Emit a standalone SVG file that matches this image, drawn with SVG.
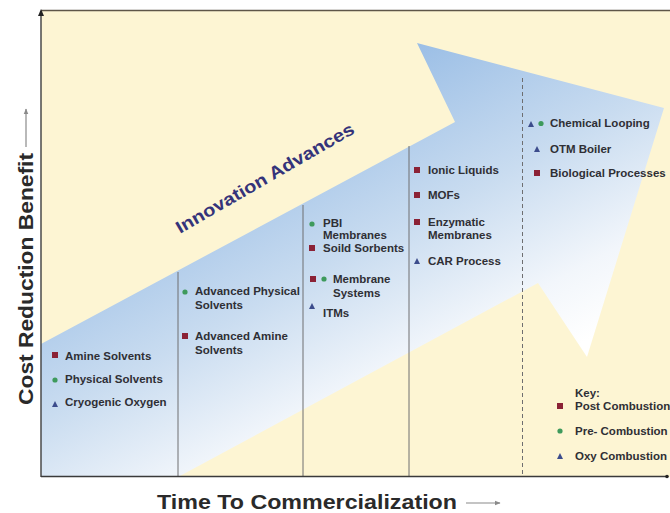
<svg xmlns="http://www.w3.org/2000/svg" width="670" height="513" viewBox="0 0 670 513">
<defs>
<linearGradient id="arrowGrad" gradientUnits="userSpaceOnUse" x1="260" y1="130" x2="420" y2="430">
<stop offset="0" stop-color="#9CBFE6"/>
<stop offset="0.45" stop-color="#C9DCF0"/>
<stop offset="0.8" stop-color="#F2F6FB"/>
<stop offset="1" stop-color="#FFFFFF"/>
</linearGradient>
<marker id="ah" viewBox="0 0 10 10" refX="9" refY="5" markerWidth="5" markerHeight="5" orient="auto">
<path d="M0,1 L10,5 L0,9 Z" fill="#8a8a8a"/>
</marker>
<clipPath id="plot"><rect x="41" y="10" width="629" height="467"/></clipPath>
</defs>
<style>
.item{font-family:"Liberation Sans",Arial,sans-serif;font-weight:bold;font-size:11.5px;fill:#2f2f35;}
.axis{font-family:"Liberation Sans",Arial,sans-serif;font-weight:bold;font-size:21px;fill:#2a2a2a;}
.sq{fill:#8B2236;}
.dot{fill:#3E9A5C;}
.tri{fill:#3C4C8C;}
.sep{stroke:#6e6e70;stroke-width:1;}
</style>
<rect x="0" y="0" width="670" height="513" fill="#ffffff"/>
<rect x="41" y="10" width="629" height="467" fill="#FDF5D3"/>
<g id="arrow" clip-path="url(#plot)">
<polygon points="41,344 455,122 417,43 664,108 587,357 538,283 178,477 41,477" fill="url(#arrowGrad)"/>
</g>
<g id="connectors">
<line class="sep" x1="178" y1="272" x2="178" y2="477"/>
<line class="sep" x1="303" y1="205" x2="303" y2="477"/>
<line class="sep" x1="409" y1="146" x2="409" y2="477"/>
<line class="sep" x1="522.5" y1="78" x2="522.5" y2="477" stroke-dasharray="4,3"/>
</g>
<g id="frame">
<line x1="41" y1="10.5" x2="670" y2="10.5" stroke="#5e5648" stroke-width="1.5"/>
<line x1="41" y1="11" x2="41" y2="477" stroke="#4a4a4a" stroke-width="1.5"/>
<path d="M38,16 L41,9 L44,16 Z" fill="#222"/>
<line x1="41" y1="476.5" x2="668" y2="476.5" stroke="#3a3a3a" stroke-width="1.5"/>
<circle cx="667" cy="476.5" r="1.8" fill="#222"/>
</g>
<g id="innovation">
<text transform="translate(180,234) rotate(-30)" font-family="'Liberation Sans',Arial,sans-serif" font-weight="bold" font-size="17.5" fill="#34337A" textLength="203" lengthAdjust="spacingAndGlyphs">Innovation Advances</text>
</g>
<g id="yaxis-label">
<text class="axis" transform="translate(33,405) rotate(-90)" textLength="252" lengthAdjust="spacingAndGlyphs">Cost Reduction Benefit</text>
<line x1="26" y1="147" x2="26" y2="109" stroke="#8a8a8a" stroke-width="1.2" marker-end="url(#ah)"/>
</g>
<g id="xaxis-label">
<text class="axis" x="157" y="509" textLength="300" lengthAdjust="spacingAndGlyphs">Time To Commercialization</text>
<line x1="466" y1="503" x2="500" y2="503" stroke="#8a8a8a" stroke-width="1.2" marker-end="url(#ah)"/>
</g>
<g id="col1">
<rect class="sq" x="52" y="352" width="6" height="6"/>
<text class="item" x="65" y="360">Amine Solvents</text>
<circle class="dot" cx="55" cy="380" r="2.6"/>
<text class="item" x="65" y="383">Physical Solvents</text>
<path class="tri" d="M52,407 L55,401 L58,407 Z"/>
<text class="item" x="65" y="406">Cryogenic Oxygen</text>
</g>
<g id="col2">
<circle class="dot" cx="185" cy="292" r="2.6"/>
<text class="item" x="195" y="295">Advanced Physical</text>
<text class="item" x="195" y="309">Solvents</text>
<rect class="sq" x="182" y="333" width="6" height="6"/>
<text class="item" x="195" y="340">Advanced Amine</text>
<text class="item" x="195" y="354">Solvents</text>
</g>
<g id="col3">
<circle class="dot" cx="312" cy="224" r="2.6"/>
<text class="item" x="323" y="227">PBI</text>
<text class="item" x="323" y="239">Membranes</text>
<rect class="sq" x="309" y="245" width="6" height="6"/>
<text class="item" x="323" y="252">Soild Sorbents</text>
<rect class="sq" x="310" y="276" width="6" height="6"/>
<circle class="dot" cx="324" cy="279" r="2.6"/>
<text class="item" x="333" y="283">Membrane</text>
<text class="item" x="333" y="297">Systems</text>
<path class="tri" d="M309,309 L312,303 L315,309 Z"/>
<text class="item" x="323" y="317">ITMs</text>
</g>
<g id="col4">
<rect class="sq" x="414" y="167" width="6" height="6"/>
<text class="item" x="428" y="174">Ionic Liquids</text>
<rect class="sq" x="414" y="192" width="6" height="6"/>
<text class="item" x="428" y="199">MOFs</text>
<rect class="sq" x="414" y="219" width="6" height="6"/>
<text class="item" x="428" y="226">Enzymatic</text>
<text class="item" x="428" y="239">Membranes</text>
<path class="tri" d="M414,264 L417,258 L420,264 Z"/>
<text class="item" x="428" y="265">CAR Process</text>
</g>
<g id="col5">
<path class="tri" d="M528,127 L531,121 L534,127 Z"/>
<circle class="dot" cx="541" cy="123.5" r="2.6"/>
<text class="item" x="550" y="127">Chemical Looping</text>
<path class="tri" d="M534,152 L537,146 L540,152 Z"/>
<text class="item" x="550" y="153">OTM Boiler</text>
<rect class="sq" x="534" y="170" width="6" height="6"/>
<text class="item" x="550" y="177">Biological Processes</text>
</g>
<g id="key">
<text class="item" x="575" y="397">Key:</text>
<rect class="sq" x="557" y="403" width="6" height="6"/>
<text class="item" x="575" y="410">Post Combustion</text>
<circle class="dot" cx="560" cy="431" r="2.6"/>
<text class="item" x="575" y="435">Pre- Combustion</text>
<path class="tri" d="M557,459 L560,453 L563,459 Z"/>
<text class="item" x="575" y="460">Oxy Combustion</text>
</g>
</svg>
